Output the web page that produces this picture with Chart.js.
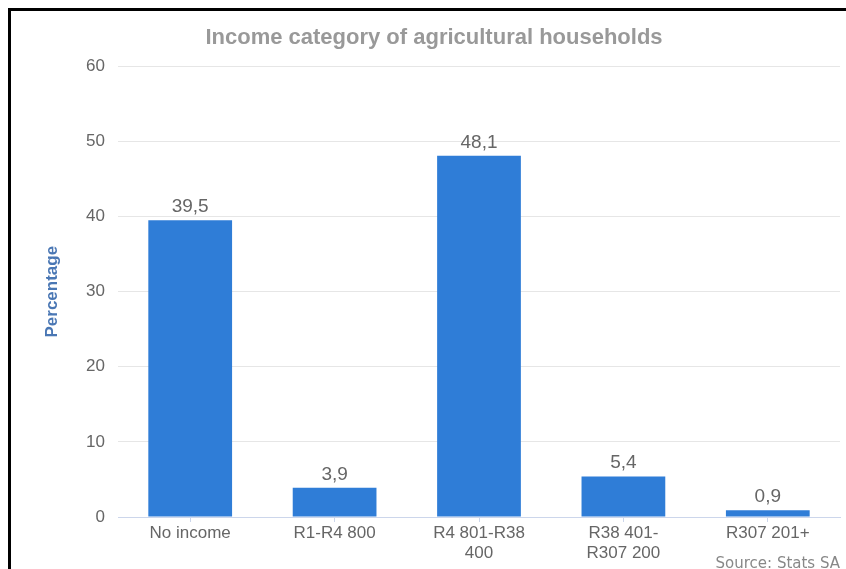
<!DOCTYPE html>
<html>
<head>
<meta charset="utf-8">
<script src="https://cdn.jsdelivr.net/npm/chart.js@4"></script>
<style>
  html, body { margin: 0; padding: 0; background: #fff; overflow: hidden; }
  #wrap { position: relative; width: 846px; height: 569px; }
  #frame { position: absolute; left: 8px; top: 8px; width: 900px; height: 600px;
           border-left: 3px solid #000; border-top: 3px solid #000; }
  #chart { position: absolute; left: 0; top: 0; }
</style>
</head>
<body>
<div id="wrap">
  <div id="frame"></div>
  <canvas id="chart" width="846" height="569"></canvas>
</div>
<script>
// data
const categories = ["No income", "R1-R4 800", ["R4 801-R38", "400"], ["R38 401-", "R307 200"], "R307 201+"];
const percentages = [39.5, 3.9, 48.1, 5.4, 0.9];
const yTicks = [0, 10, 20, 30, 40, 50, 60];

const font = "'Liberation Sans', Arial, sans-serif";

// value labels above bars, with decimal comma
const barLabels = {
    id: "barLabels",
    afterDatasetsDraw(chart) {
        const ctx = chart.ctx;
        const meta = chart.getDatasetMeta(0);
        ctx.save();
        ctx.font = "19px " + font;
        ctx.fillStyle = "#666";
        ctx.textAlign = "center";
        ctx.textBaseline = "alphabetic";
        meta.data.forEach((bar, i) => {
            const txt = String(percentages[i]).replace(".", ",");
            ctx.fillText(txt, bar.x, bar.y - 8);
        });
        ctx.restore();
    }
};

const ctx = document.getElementById("chart").getContext("2d");
const chart = new Chart(ctx, {
    type: "bar",
    data: {
        labels: categories,
        datasets: [{
            label: "Percentage",
            data: percentages,
            backgroundColor: "#2f7dd7",
            borderWidth: 0,
            categoryPercentage: 1,
            barPercentage: 0.58
        }]
    },
    options: {
        responsive: false,
        animation: false,
        layout: { padding: { left: 28, right: 6, top: 0, bottom: 0 } },
        plugins: {
            legend: { display: false },
            tooltip: { enabled: false },
            title: {
                display: true,
                text: "Income category of agricultural households",
                color: "#999",
                font: { family: font, size: 22, weight: "bold" },
                padding: { top: 25, bottom: 15 }
            },
            subtitle: {
                display: true,
                position: "bottom",
                align: "end",
                text: "Source: Stats SA",
                color: "#888",
                font: { family: "'DejaVu Sans', sans-serif", size: 15 },
                padding: { top: -14, bottom: -4 }
            }
        },
        scales: {
            x: {
                afterFit(scale) { scale.height = 52; },
                grid: {
                    offset: false,
                    drawOnChartArea: false,
                    drawTicks: true,
                    tickLength: 5,
                    tickColor: "#ccd6eb"
                },
                border: { display: true, color: "#ccd6eb", width: 1 },
                ticks: {
                    color: "#666",
                    padding: 1,
                    maxRotation: 0,
                    font: { family: font, size: 17 }
                }
            },
            y: {
                min: 0,
                max: 60,
                afterFit(scale) { scale.width = 90; },
                afterBuildTicks(scale) { scale.ticks = yTicks.map(v => ({ value: v })); },
                grid: {
                    drawTicks: false,
                    color: c => (c.tick && c.tick.value === 0) ? "#ccd6eb" : "#e6e6e6"
                },
                border: { display: false },
                ticks: {
                    color: "#666",
                    padding: 13,
                    font: { family: font, size: 17 }
                },
                title: {
                    display: true,
                    text: "Percentage",
                    color: "#4a77b4",
                    font: { family: font, size: 17, weight: "bold" },
                    padding: { top: 14, bottom: 0 }
                }
            }
        }
    },
    plugins: [barLabels]
});
</script>
</body>
</html>
